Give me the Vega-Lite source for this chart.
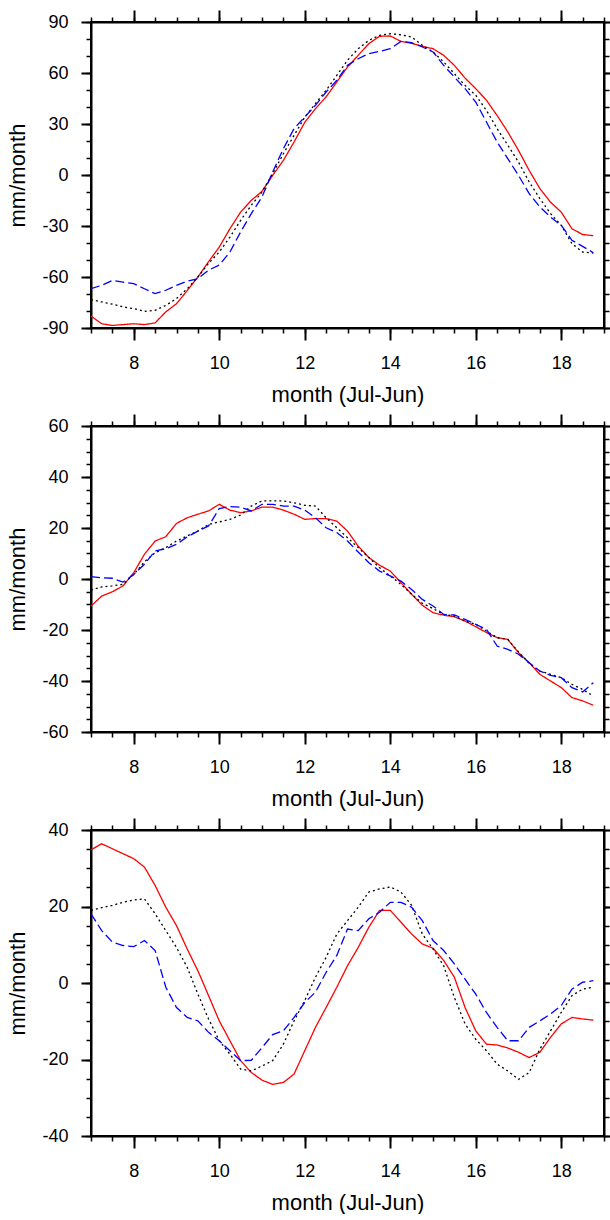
{
"$schema": "https://vega.github.io/schema/vega-lite/v6.json",
"padding": {"left": 5, "top": 8, "right": 0, "bottom": 0},
"spacing": 6,
"config": {
  "font": "Liberation Sans",
  "view": {"stroke": "black", "strokeWidth": 2},
  "axis": {"grid": false, "tickColor": "black", "domainColor": "black", "labelColor": "black", "titleColor": "black", "labelFont": "Liberation Sans", "titleFont": "Liberation Sans", "titleFontWeight": "normal", "labelFontSize": 18, "titleFontSize": 22, "tickWidth": 2, "domainWidth": 2, "labelFlush": false}
},
"datasets": {
"p1": [
{"s":"r","m":7,"v":-83},{"s":"r","m":7.25,"v":-87.5},{"s":"r","m":7.5,"v":-88.5},{"s":"r","m":7.75,"v":-88},{"s":"r","m":8,"v":-87.5},{"s":"r","m":8.25,"v":-88},{"s":"r","m":8.5,"v":-87},{"s":"r","m":8.75,"v":-80.5},{"s":"r","m":9,"v":-75.7},{"s":"r","m":9.25,"v":-68},{"s":"r","m":9.5,"v":-60},{"s":"r","m":9.75,"v":-51},{"s":"r","m":10,"v":-42.4},{"s":"r","m":10.25,"v":-31.6},{"s":"r","m":10.5,"v":-21.8},{"s":"r","m":10.75,"v":-14.9},{"s":"r","m":11,"v":-9.6},{"s":"r","m":11.25,"v":-0.2},{"s":"r","m":11.5,"v":8.6},{"s":"r","m":11.75,"v":19.4},{"s":"r","m":12,"v":31},{"s":"r","m":12.25,"v":39},{"s":"r","m":12.5,"v":46},{"s":"r","m":12.75,"v":54.7},{"s":"r","m":13,"v":63.5},{"s":"r","m":13.25,"v":70.4},{"s":"r","m":13.5,"v":77.3},{"s":"r","m":13.75,"v":81.6},{"s":"r","m":14,"v":81.8},{"s":"r","m":14.25,"v":78.6},{"s":"r","m":14.5,"v":77.5},{"s":"r","m":14.75,"v":75.7},{"s":"r","m":15,"v":74.3},{"s":"r","m":15.25,"v":70.4},{"s":"r","m":15.5,"v":64.5},{"s":"r","m":15.75,"v":57},{"s":"r","m":16,"v":50.8},{"s":"r","m":16.25,"v":44},{"s":"r","m":16.5,"v":35},{"s":"r","m":16.75,"v":25.3},{"s":"r","m":17,"v":14.5},{"s":"r","m":17.25,"v":2.7},{"s":"r","m":17.5,"v":-8},{"s":"r","m":17.75,"v":-16},{"s":"r","m":18,"v":-21.8},{"s":"r","m":18.25,"v":-31.6},{"s":"r","m":18.5,"v":-35},{"s":"r","m":18.75,"v":-35.7},
{"s":"k","m":7,"v":-73.3},{"s":"k","m":7.25,"v":-74.7},{"s":"k","m":7.5,"v":-76},{"s":"k","m":7.75,"v":-77.6},{"s":"k","m":8,"v":-78.6},{"s":"k","m":8.25,"v":-80.2},{"s":"k","m":8.5,"v":-79.6},{"s":"k","m":8.75,"v":-76.7},{"s":"k","m":9,"v":-72.7},{"s":"k","m":9.25,"v":-66.9},{"s":"k","m":9.5,"v":-60},{"s":"k","m":9.75,"v":-52},{"s":"k","m":10,"v":-45.3},{"s":"k","m":10.25,"v":-36.5},{"s":"k","m":10.5,"v":-26.7},{"s":"k","m":10.75,"v":-17.8},{"s":"k","m":11,"v":-10},{"s":"k","m":11.25,"v":0.8},{"s":"k","m":11.5,"v":12.5},{"s":"k","m":11.75,"v":23.3},{"s":"k","m":12,"v":34},{"s":"k","m":12.25,"v":42},{"s":"k","m":12.5,"v":49.8},{"s":"k","m":12.75,"v":58.6},{"s":"k","m":13,"v":67.5},{"s":"k","m":13.25,"v":74.3},{"s":"k","m":13.5,"v":79.2},{"s":"k","m":13.75,"v":82.2},{"s":"k","m":14,"v":83.1},{"s":"k","m":14.25,"v":82.5},{"s":"k","m":14.5,"v":81.2},{"s":"k","m":14.75,"v":76.3},{"s":"k","m":15,"v":72.4},{"s":"k","m":15.25,"v":66.5},{"s":"k","m":15.5,"v":59.6},{"s":"k","m":15.75,"v":52.7},{"s":"k","m":16,"v":46.9},{"s":"k","m":16.25,"v":38},{"s":"k","m":16.5,"v":27.3},{"s":"k","m":16.75,"v":17.5},{"s":"k","m":17,"v":7.6},{"s":"k","m":17.25,"v":-4.1},{"s":"k","m":17.5,"v":-13.9},{"s":"k","m":17.75,"v":-22.7},{"s":"k","m":18,"v":-29.6},{"s":"k","m":18.25,"v":-40.4},{"s":"k","m":18.5,"v":-45.3},{"s":"k","m":18.75,"v":-45.9},
{"s":"b","m":7,"v":-66.9},{"s":"b","m":7.25,"v":-64.9},{"s":"b","m":7.5,"v":-62},{"s":"b","m":7.75,"v":-63},{"s":"b","m":8,"v":-63.9},{"s":"b","m":8.25,"v":-66.9},{"s":"b","m":8.5,"v":-69.8},{"s":"b","m":8.75,"v":-67.8},{"s":"b","m":9,"v":-64.9},{"s":"b","m":9.25,"v":-62.5},{"s":"b","m":9.5,"v":-61},{"s":"b","m":9.75,"v":-56},{"s":"b","m":10,"v":-53},{"s":"b","m":10.25,"v":-45.3},{"s":"b","m":10.5,"v":-33.5},{"s":"b","m":10.75,"v":-22.7},{"s":"b","m":11,"v":-12.9},{"s":"b","m":11.25,"v":1.8},{"s":"b","m":11.5,"v":15.5},{"s":"b","m":11.75,"v":27.3},{"s":"b","m":12,"v":34.1},{"s":"b","m":12.25,"v":41},{"s":"b","m":12.5,"v":48.8},{"s":"b","m":12.75,"v":55.7},{"s":"b","m":13,"v":64.5},{"s":"b","m":13.25,"v":68.4},{"s":"b","m":13.5,"v":71.4},{"s":"b","m":13.75,"v":72.7},{"s":"b","m":14,"v":74.3},{"s":"b","m":14.25,"v":78.6},{"s":"b","m":14.5,"v":77.8},{"s":"b","m":14.75,"v":75.3},{"s":"b","m":15,"v":72.4},{"s":"b","m":15.25,"v":64.5},{"s":"b","m":15.5,"v":57.6},{"s":"b","m":15.75,"v":50.8},{"s":"b","m":16,"v":42.9},{"s":"b","m":16.25,"v":31.2},{"s":"b","m":16.5,"v":19.4},{"s":"b","m":16.75,"v":9.6},{"s":"b","m":17,"v":-0.2},{"s":"b","m":17.25,"v":-11},{"s":"b","m":17.5,"v":-18.8},{"s":"b","m":17.75,"v":-24.7},{"s":"b","m":18,"v":-29.6},{"s":"b","m":18.25,"v":-38.4},{"s":"b","m":18.5,"v":-42},{"s":"b","m":18.75,"v":-45.7}
],
"p2": [
{"s":"r","m":7,"v":-10.6},{"s":"r","m":7.25,"v":-6.7},{"s":"r","m":7.5,"v":-5},{"s":"r","m":7.75,"v":-2.7},{"s":"r","m":8,"v":2.5},{"s":"r","m":8.25,"v":9.7},{"s":"r","m":8.5,"v":14.9},{"s":"r","m":8.75,"v":16.6},{"s":"r","m":9,"v":21.8},{"s":"r","m":9.25,"v":24},{"s":"r","m":9.5,"v":25.4},{"s":"r","m":9.75,"v":26.7},{"s":"r","m":10,"v":29.3},{"s":"r","m":10.25,"v":27},{"s":"r","m":10.5,"v":26},{"s":"r","m":10.75,"v":26.7},{"s":"r","m":11,"v":28.2},{"s":"r","m":11.25,"v":28.2},{"s":"r","m":11.5,"v":27},{"s":"r","m":11.75,"v":25.4},{"s":"r","m":12,"v":23.4},{"s":"r","m":12.25,"v":23.7},{"s":"r","m":12.5,"v":23.7},{"s":"r","m":12.75,"v":22.7},{"s":"r","m":13,"v":18.8},{"s":"r","m":13.25,"v":12.9},{"s":"r","m":13.5,"v":8.4},{"s":"r","m":13.75,"v":5.4},{"s":"r","m":14,"v":3.1},{"s":"r","m":14.25,"v":-1.4},{"s":"r","m":14.5,"v":-6},{"s":"r","m":14.75,"v":-10.3},{"s":"r","m":15,"v":-13.2},{"s":"r","m":15.25,"v":-14.2},{"s":"r","m":15.5,"v":-14.8},{"s":"r","m":15.75,"v":-16.5},{"s":"r","m":16,"v":-18.7},{"s":"r","m":16.25,"v":-21},{"s":"r","m":16.5,"v":-23},{"s":"r","m":16.75,"v":-23.7},{"s":"r","m":17,"v":-28.9},{"s":"r","m":17.25,"v":-32.8},{"s":"r","m":17.5,"v":-37.4},{"s":"r","m":17.75,"v":-40},{"s":"r","m":18,"v":-42.6},{"s":"r","m":18.25,"v":-46.5},{"s":"r","m":18.5,"v":-47.8},{"s":"r","m":18.75,"v":-49.5},
{"s":"k","m":7,"v":-4.4},{"s":"k","m":7.25,"v":-3.1},{"s":"k","m":7.5,"v":-2.7},{"s":"k","m":7.75,"v":-2.1},{"s":"k","m":8,"v":1.8},{"s":"k","m":8.25,"v":6.7},{"s":"k","m":8.5,"v":10.3},{"s":"k","m":8.75,"v":12.3},{"s":"k","m":9,"v":14.9},{"s":"k","m":9.25,"v":16.9},{"s":"k","m":9.5,"v":18.8},{"s":"k","m":9.75,"v":21.4},{"s":"k","m":10,"v":22.4},{"s":"k","m":10.25,"v":23.4},{"s":"k","m":10.5,"v":25.1},{"s":"k","m":10.75,"v":28.6},{"s":"k","m":11,"v":30.6},{"s":"k","m":11.25,"v":30.6},{"s":"k","m":11.5,"v":30.6},{"s":"k","m":11.75,"v":29.9},{"s":"k","m":12,"v":28.9},{"s":"k","m":12.25,"v":28.6},{"s":"k","m":12.5,"v":24},{"s":"k","m":12.75,"v":20.1},{"s":"k","m":13,"v":16.2},{"s":"k","m":13.25,"v":12.3},{"s":"k","m":13.5,"v":8.4},{"s":"k","m":13.75,"v":4.4},{"s":"k","m":14,"v":1.2},{"s":"k","m":14.25,"v":-2.1},{"s":"k","m":14.5,"v":-6},{"s":"k","m":14.75,"v":-9.5},{"s":"k","m":15,"v":-11.6},{"s":"k","m":15.25,"v":-13.9},{"s":"k","m":15.5,"v":-14.5},{"s":"k","m":15.75,"v":-16.5},{"s":"k","m":16,"v":-17.8},{"s":"k","m":16.25,"v":-20.4},{"s":"k","m":16.5,"v":-23},{"s":"k","m":16.75,"v":-23.7},{"s":"k","m":17,"v":-28.6},{"s":"k","m":17.25,"v":-33.1},{"s":"k","m":17.5,"v":-36.1},{"s":"k","m":17.75,"v":-37.4},{"s":"k","m":18,"v":-38.7},{"s":"k","m":18.25,"v":-41.3},{"s":"k","m":18.5,"v":-43.3},{"s":"k","m":18.75,"v":-45.9},
{"s":"b","m":7,"v":0.9},{"s":"b","m":7.25,"v":0.5},{"s":"b","m":7.5,"v":0.3},{"s":"b","m":7.75,"v":-1.2},{"s":"b","m":8,"v":1.8},{"s":"b","m":8.25,"v":5.8},{"s":"b","m":8.5,"v":11},{"s":"b","m":8.75,"v":11.9},{"s":"b","m":9,"v":13.6},{"s":"b","m":9.25,"v":16.5},{"s":"b","m":9.5,"v":18.8},{"s":"b","m":9.75,"v":20.8},{"s":"b","m":10,"v":27.6},{"s":"b","m":10.25,"v":28.4},{"s":"b","m":10.5,"v":28.2},{"s":"b","m":10.75,"v":26.7},{"s":"b","m":11,"v":29.3},{"s":"b","m":11.25,"v":29.3},{"s":"b","m":11.5,"v":28.6},{"s":"b","m":11.75,"v":28.6},{"s":"b","m":12,"v":27},{"s":"b","m":12.25,"v":24},{"s":"b","m":12.5,"v":20.1},{"s":"b","m":12.75,"v":18.2},{"s":"b","m":13,"v":14.9},{"s":"b","m":13.25,"v":10.6},{"s":"b","m":13.5,"v":6.4},{"s":"b","m":13.75,"v":3.1},{"s":"b","m":14,"v":1.2},{"s":"b","m":14.25,"v":-0.8},{"s":"b","m":14.5,"v":-4.1},{"s":"b","m":14.75,"v":-8},{"s":"b","m":15,"v":-10.6},{"s":"b","m":15.25,"v":-13.9},{"s":"b","m":15.5,"v":-14.1},{"s":"b","m":15.75,"v":-15.8},{"s":"b","m":16,"v":-17.8},{"s":"b","m":16.25,"v":-19.7},{"s":"b","m":16.5,"v":-26.3},{"s":"b","m":16.75,"v":-27.6},{"s":"b","m":17,"v":-29.5},{"s":"b","m":17.25,"v":-32.8},{"s":"b","m":17.5,"v":-36.1},{"s":"b","m":17.75,"v":-37.8},{"s":"b","m":18,"v":-38.7},{"s":"b","m":18.25,"v":-42.6},{"s":"b","m":18.5,"v":-44.3},{"s":"b","m":18.75,"v":-40.7}
],
"p3": [
{"s":"r","m":7,"v":34.8},{"s":"r","m":7.25,"v":36.4},{"s":"r","m":7.5,"v":35.1},{"s":"r","m":7.75,"v":33.8},{"s":"r","m":8,"v":32.5},{"s":"r","m":8.25,"v":30.3},{"s":"r","m":8.5,"v":25.5},{"s":"r","m":8.75,"v":19.8},{"s":"r","m":9,"v":15},{"s":"r","m":9.25,"v":8.9},{"s":"r","m":9.5,"v":3.2},{"s":"r","m":9.75,"v":-3.3},{"s":"r","m":10,"v":-9.9},{"s":"r","m":10.25,"v":-15.1},{"s":"r","m":10.5,"v":-20.3},{"s":"r","m":10.75,"v":-23.4},{"s":"r","m":11,"v":-25.4},{"s":"r","m":11.25,"v":-26.5},{"s":"r","m":11.5,"v":-26},{"s":"r","m":11.75,"v":-23.8},{"s":"r","m":12,"v":-17.7},{"s":"r","m":12.25,"v":-11.6},{"s":"r","m":12.5,"v":-6.4},{"s":"r","m":12.75,"v":-1.1},{"s":"r","m":13,"v":4.5},{"s":"r","m":13.25,"v":9.3},{"s":"r","m":13.5,"v":14.6},{"s":"r","m":13.75,"v":19},{"s":"r","m":14,"v":19},{"s":"r","m":14.25,"v":15.9},{"s":"r","m":14.5,"v":12.8},{"s":"r","m":14.75,"v":10.2},{"s":"r","m":15,"v":9.1},{"s":"r","m":15.25,"v":5.9},{"s":"r","m":15.5,"v":1.5},{"s":"r","m":15.75,"v":-6.4},{"s":"r","m":16,"v":-12.5},{"s":"r","m":16.25,"v":-16},{"s":"r","m":16.5,"v":-16.2},{"s":"r","m":16.75,"v":-17},{"s":"r","m":17,"v":-18.1},{"s":"r","m":17.25,"v":-19.5},{"s":"r","m":17.5,"v":-18.1},{"s":"r","m":17.75,"v":-14.2},{"s":"r","m":18,"v":-10.7},{"s":"r","m":18.25,"v":-9},{"s":"r","m":18.5,"v":-9.4},{"s":"r","m":18.75,"v":-9.7},
{"s":"k","m":7,"v":19},{"s":"k","m":7.25,"v":19.7},{"s":"k","m":7.5,"v":20.3},{"s":"k","m":7.75,"v":21.1},{"s":"k","m":8,"v":21.7},{"s":"k","m":8.25,"v":22},{"s":"k","m":8.5,"v":18.1},{"s":"k","m":8.75,"v":13.7},{"s":"k","m":9,"v":9.3},{"s":"k","m":9.25,"v":4.1},{"s":"k","m":9.5,"v":-2.9},{"s":"k","m":9.75,"v":-9.4},{"s":"k","m":10,"v":-15.1},{"s":"k","m":10.25,"v":-18.6},{"s":"k","m":10.5,"v":-22.5},{"s":"k","m":10.75,"v":-23},{"s":"k","m":11,"v":-21.7},{"s":"k","m":11.25,"v":-20.3},{"s":"k","m":11.5,"v":-16},{"s":"k","m":11.75,"v":-9.9},{"s":"k","m":12,"v":-4.6},{"s":"k","m":12.25,"v":1.5},{"s":"k","m":12.5,"v":6.7},{"s":"k","m":12.75,"v":12.8},{"s":"k","m":13,"v":16.3},{"s":"k","m":13.25,"v":19.8},{"s":"k","m":13.5,"v":23.8},{"s":"k","m":13.75,"v":24.6},{"s":"k","m":14,"v":25.1},{"s":"k","m":14.25,"v":23.8},{"s":"k","m":14.5,"v":20.3},{"s":"k","m":14.75,"v":12.8},{"s":"k","m":15,"v":8.9},{"s":"k","m":15.25,"v":4.5},{"s":"k","m":15.5,"v":-3.8},{"s":"k","m":15.75,"v":-10.7},{"s":"k","m":16,"v":-14.7},{"s":"k","m":16.25,"v":-17.7},{"s":"k","m":16.5,"v":-21.2},{"s":"k","m":16.75,"v":-23},{"s":"k","m":17,"v":-25.2},{"s":"k","m":17.25,"v":-23.4},{"s":"k","m":17.5,"v":-17.3},{"s":"k","m":17.75,"v":-12.5},{"s":"k","m":18,"v":-7.7},{"s":"k","m":18.25,"v":-3.3},{"s":"k","m":18.5,"v":-1.6},{"s":"k","m":18.75,"v":-1.1},
{"s":"b","m":7,"v":18.1},{"s":"b","m":7.25,"v":13.7},{"s":"b","m":7.5,"v":10.7},{"s":"b","m":7.75,"v":9.8},{"s":"b","m":8,"v":9.5},{"s":"b","m":8.25,"v":11.1},{"s":"b","m":8.5,"v":8.5},{"s":"b","m":8.75,"v":-1.1},{"s":"b","m":9,"v":-6.4},{"s":"b","m":9.25,"v":-9},{"s":"b","m":9.5,"v":-9.9},{"s":"b","m":9.75,"v":-12.9},{"s":"b","m":10,"v":-15.1},{"s":"b","m":10.25,"v":-17.7},{"s":"b","m":10.5,"v":-20.3},{"s":"b","m":10.75,"v":-20.2},{"s":"b","m":11,"v":-16.9},{"s":"b","m":11.25,"v":-13.5},{"s":"b","m":11.5,"v":-12.5},{"s":"b","m":11.75,"v":-9},{"s":"b","m":12,"v":-5.1},{"s":"b","m":12.25,"v":-2.4},{"s":"b","m":12.5,"v":2.8},{"s":"b","m":12.75,"v":7.2},{"s":"b","m":13,"v":14.1},{"s":"b","m":13.25,"v":13.7},{"s":"b","m":13.5,"v":16.8},{"s":"b","m":13.75,"v":18.5},{"s":"b","m":14,"v":21.1},{"s":"b","m":14.25,"v":21.1},{"s":"b","m":14.5,"v":19.8},{"s":"b","m":14.75,"v":16.3},{"s":"b","m":15,"v":11.1},{"s":"b","m":15.25,"v":8.5},{"s":"b","m":15.5,"v":5},{"s":"b","m":15.75,"v":1},{"s":"b","m":16,"v":-2.9},{"s":"b","m":16.25,"v":-7.7},{"s":"b","m":16.5,"v":-11.6},{"s":"b","m":16.75,"v":-15.1},{"s":"b","m":17,"v":-15.1},{"s":"b","m":17.25,"v":-11.6},{"s":"b","m":17.5,"v":-9.9},{"s":"b","m":17.75,"v":-8.1},{"s":"b","m":18,"v":-5.9},{"s":"b","m":18.25,"v":-1.6},{"s":"b","m":18.5,"v":0.2},{"s":"b","m":18.75,"v":0.6}
]
},
"vconcat": [
{
 "data": {"name": "p1"}, "width": 513, "height": 306,
 "layer": [
  {"mark": {"type": "line", "strokeWidth": 1.3},
   "encoding": {
    "x": {"field": "m", "type": "quantitative", "scale": {"domain": [7, 19], "nice": false, "zero": false}, "axis": {"orient": "bottom", "values": [8,10,12,14,16,18], "tickSize": 12, "labelPadding": 14, "title": "month (Jul-Jun)", "titlePadding": 12, "labelExpr": "'' + datum.value"}},
    "y": {"field": "v", "type": "quantitative", "scale": {"domain": [-90, 90], "nice": false, "zero": false}, "axis": {"orient": "left", "values": [-90,-60,-30,0,30,60,90], "tickSize": 10, "labelPadding": 13, "title": "mm/month", "titlePadding": 12, "labelExpr": "'' + datum.value"}},
    "color": {"field": "s", "type": "nominal", "scale": {"domain": ["r","k","b"], "range": ["#ff0000","#000000","#0000ff"]}, "legend": null},
    "strokeDash": {"field": "s", "type": "nominal", "scale": {"domain": ["r","k","b"], "range": [[1,0],[2,3],[9,4]]}, "legend": null}
   }},
  {"mark": {"type": "point", "opacity": 0},
   "encoding": {
    "x": {"field": "m", "type": "quantitative", "scale": {"domain": [7, 19], "nice": false, "zero": false}, "axis": {"orient": "bottom", "values": [7,7.5,8,8.5,9,9.5,10,10.5,11,11.5,12,12.5,13,13.5,14,14.5,15,15.5,16,16.5,17,17.5,18,18.5,19], "tickSize": 5, "tickWidth": 1.5, "labels": false, "domain": false, "title": null}},
    "y": {"field": "v", "type": "quantitative", "scale": {"domain": [-90, 90], "nice": false, "zero": false}, "axis": {"orient": "left", "values": [-90,-80,-70,-60,-50,-40,-30,-20,-10,0,10,20,30,40,50,60,70,80,90], "tickSize": 5, "tickWidth": 1.5, "labels": false, "domain": false, "title": null}}
   }},
  {"mark": {"type": "point", "opacity": 0},
   "encoding": {
    "x": {"field": "m", "type": "quantitative", "scale": {"domain": [7, 19], "nice": false, "zero": false}, "axis": {"orient": "top", "values": [8,10,12,14,16,18], "tickSize": 12, "labels": false, "title": null}},
    "y": {"field": "v", "type": "quantitative", "scale": {"domain": [-90, 90], "nice": false, "zero": false}, "axis": {"orient": "right", "values": [-90,-60,-30,0,30,60,90], "tickSize": 10, "labels": false, "title": null}}
   }},
  {"mark": {"type": "point", "opacity": 0},
   "encoding": {
    "x": {"field": "m", "type": "quantitative", "scale": {"domain": [7, 19], "nice": false, "zero": false}, "axis": {"orient": "top", "values": [7,7.5,8,8.5,9,9.5,10,10.5,11,11.5,12,12.5,13,13.5,14,14.5,15,15.5,16,16.5,17,17.5,18,18.5,19], "tickSize": 5, "tickWidth": 1.5, "labels": false, "domain": false, "title": null}},
    "y": {"field": "v", "type": "quantitative", "scale": {"domain": [-90, 90], "nice": false, "zero": false}, "axis": {"orient": "right", "values": [-90,-80,-70,-60,-50,-40,-30,-20,-10,0,10,20,30,40,50,60,70,80,90], "tickSize": 5, "tickWidth": 1.5, "labels": false, "domain": false, "title": null}}
   }}
 ],
 "resolve": {"axis": {"x": "independent", "y": "independent"}}
},
{
 "data": {"name": "p2"}, "width": 513, "height": 306,
 "layer": [
  {"mark": {"type": "line", "strokeWidth": 1.3},
   "encoding": {
    "x": {"field": "m", "type": "quantitative", "scale": {"domain": [7, 19], "nice": false, "zero": false}, "axis": {"orient": "bottom", "values": [8,10,12,14,16,18], "tickSize": 12, "labelPadding": 14, "title": "month (Jul-Jun)", "titlePadding": 12, "labelExpr": "'' + datum.value"}},
    "y": {"field": "v", "type": "quantitative", "scale": {"domain": [-60, 60], "nice": false, "zero": false}, "axis": {"orient": "left", "values": [-60,-40,-20,0,20,40,60], "tickSize": 10, "labelPadding": 13, "title": "mm/month", "titlePadding": 12, "labelExpr": "'' + datum.value"}},
    "color": {"field": "s", "type": "nominal", "scale": {"domain": ["r","k","b"], "range": ["#ff0000","#000000","#0000ff"]}, "legend": null},
    "strokeDash": {"field": "s", "type": "nominal", "scale": {"domain": ["r","k","b"], "range": [[1,0],[2,3],[9,4]]}, "legend": null}
   }},
  {"mark": {"type": "point", "opacity": 0},
   "encoding": {
    "x": {"field": "m", "type": "quantitative", "scale": {"domain": [7, 19], "nice": false, "zero": false}, "axis": {"orient": "bottom", "values": [7,7.5,8,8.5,9,9.5,10,10.5,11,11.5,12,12.5,13,13.5,14,14.5,15,15.5,16,16.5,17,17.5,18,18.5,19], "tickSize": 5, "tickWidth": 1.5, "labels": false, "domain": false, "title": null}},
    "y": {"field": "v", "type": "quantitative", "scale": {"domain": [-60, 60], "nice": false, "zero": false}, "axis": {"orient": "left", "values": [-60,-55,-50,-45,-40,-35,-30,-25,-20,-15,-10,-5,0,5,10,15,20,25,30,35,40,45,50,55,60], "tickSize": 5, "tickWidth": 1.5, "labels": false, "domain": false, "title": null}}
   }},
  {"mark": {"type": "point", "opacity": 0},
   "encoding": {
    "x": {"field": "m", "type": "quantitative", "scale": {"domain": [7, 19], "nice": false, "zero": false}, "axis": {"orient": "top", "values": [8,10,12,14,16,18], "tickSize": 12, "labels": false, "title": null}},
    "y": {"field": "v", "type": "quantitative", "scale": {"domain": [-60, 60], "nice": false, "zero": false}, "axis": {"orient": "right", "values": [-60,-40,-20,0,20,40,60], "tickSize": 10, "labels": false, "title": null}}
   }},
  {"mark": {"type": "point", "opacity": 0},
   "encoding": {
    "x": {"field": "m", "type": "quantitative", "scale": {"domain": [7, 19], "nice": false, "zero": false}, "axis": {"orient": "top", "values": [7,7.5,8,8.5,9,9.5,10,10.5,11,11.5,12,12.5,13,13.5,14,14.5,15,15.5,16,16.5,17,17.5,18,18.5,19], "tickSize": 5, "tickWidth": 1.5, "labels": false, "domain": false, "title": null}},
    "y": {"field": "v", "type": "quantitative", "scale": {"domain": [-60, 60], "nice": false, "zero": false}, "axis": {"orient": "right", "values": [-60,-55,-50,-45,-40,-35,-30,-25,-20,-15,-10,-5,0,5,10,15,20,25,30,35,40,45,50,55,60], "tickSize": 5, "tickWidth": 1.5, "labels": false, "domain": false, "title": null}}
   }}
 ],
 "resolve": {"axis": {"x": "independent", "y": "independent"}}
},
{
 "data": {"name": "p3"}, "width": 513, "height": 306,
 "layer": [
  {"mark": {"type": "line", "strokeWidth": 1.3},
   "encoding": {
    "x": {"field": "m", "type": "quantitative", "scale": {"domain": [7, 19], "nice": false, "zero": false}, "axis": {"orient": "bottom", "values": [8,10,12,14,16,18], "tickSize": 12, "labelPadding": 14, "title": "month (Jul-Jun)", "titlePadding": 12, "labelExpr": "'' + datum.value"}},
    "y": {"field": "v", "type": "quantitative", "scale": {"domain": [-40, 40], "nice": false, "zero": false}, "axis": {"orient": "left", "values": [-40,-20,0,20,40], "tickSize": 10, "labelPadding": 13, "title": "mm/month", "titlePadding": 12, "labelExpr": "'' + datum.value"}},
    "color": {"field": "s", "type": "nominal", "scale": {"domain": ["r","k","b"], "range": ["#ff0000","#000000","#0000ff"]}, "legend": null},
    "strokeDash": {"field": "s", "type": "nominal", "scale": {"domain": ["r","k","b"], "range": [[1,0],[2,3],[9,4]]}, "legend": null}
   }},
  {"mark": {"type": "point", "opacity": 0},
   "encoding": {
    "x": {"field": "m", "type": "quantitative", "scale": {"domain": [7, 19], "nice": false, "zero": false}, "axis": {"orient": "bottom", "values": [7,7.5,8,8.5,9,9.5,10,10.5,11,11.5,12,12.5,13,13.5,14,14.5,15,15.5,16,16.5,17,17.5,18,18.5,19], "tickSize": 5, "tickWidth": 1.5, "labels": false, "domain": false, "title": null}},
    "y": {"field": "v", "type": "quantitative", "scale": {"domain": [-40, 40], "nice": false, "zero": false}, "axis": {"orient": "left", "values": [-40,-35,-30,-25,-20,-15,-10,-5,0,5,10,15,20,25,30,35,40], "tickSize": 5, "tickWidth": 1.5, "labels": false, "domain": false, "title": null}}
   }},
  {"mark": {"type": "point", "opacity": 0},
   "encoding": {
    "x": {"field": "m", "type": "quantitative", "scale": {"domain": [7, 19], "nice": false, "zero": false}, "axis": {"orient": "top", "values": [8,10,12,14,16,18], "tickSize": 12, "labels": false, "title": null}},
    "y": {"field": "v", "type": "quantitative", "scale": {"domain": [-40, 40], "nice": false, "zero": false}, "axis": {"orient": "right", "values": [-40,-20,0,20,40], "tickSize": 10, "labels": false, "title": null}}
   }},
  {"mark": {"type": "point", "opacity": 0},
   "encoding": {
    "x": {"field": "m", "type": "quantitative", "scale": {"domain": [7, 19], "nice": false, "zero": false}, "axis": {"orient": "top", "values": [7,7.5,8,8.5,9,9.5,10,10.5,11,11.5,12,12.5,13,13.5,14,14.5,15,15.5,16,16.5,17,17.5,18,18.5,19], "tickSize": 5, "tickWidth": 1.5, "labels": false, "domain": false, "title": null}},
    "y": {"field": "v", "type": "quantitative", "scale": {"domain": [-40, 40], "nice": false, "zero": false}, "axis": {"orient": "right", "values": [-40,-35,-30,-25,-20,-15,-10,-5,0,5,10,15,20,25,30,35,40], "tickSize": 5, "tickWidth": 1.5, "labels": false, "domain": false, "title": null}}
   }}
 ],
 "resolve": {"axis": {"x": "independent", "y": "independent"}}
}
]
}
